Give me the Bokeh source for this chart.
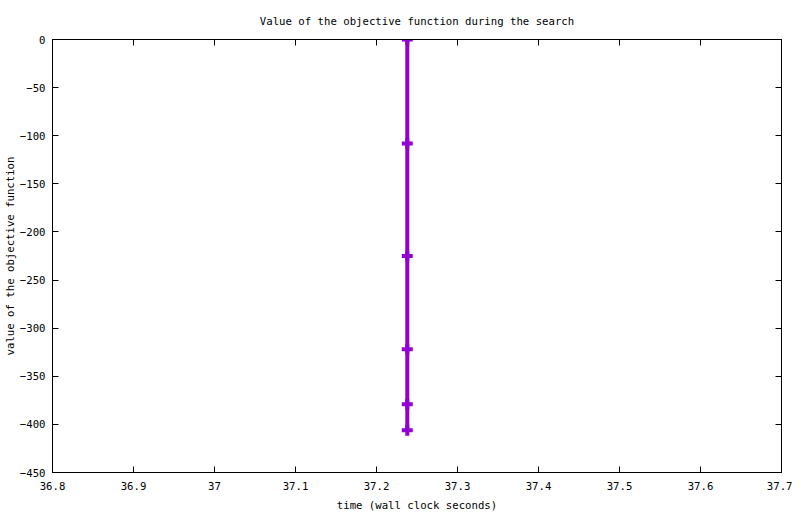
from bokeh.plotting import figure
from bokeh.models import FixedTicker, LinearAxis, CustomJSTickFormatter, Range1d
from bokeh.embed import file_html
from bokeh.resources import INLINE

# data
time_s = [37.238, 37.238, 37.238, 37.238, 37.238, 37.238]
objective = [0, -108, -225, -322, -379, -406]

x_ticks = [36.8, 36.9, 37.0, 37.1, 37.2, 37.3, 37.4, 37.5, 37.6, 37.7]
y_ticks = [0, -50, -100, -150, -200, -250, -300, -350, -400, -450]

FONT = "DejaVu Sans Mono"
PURPLE = "#9400D3"

p = figure(frame_width=729, frame_height=433, output_backend="svg", toolbar_location=None,
           x_range=Range1d(36.8, 37.7), y_range=Range1d(-450, 0),
           min_border_left=52, min_border_right=11, min_border_top=39, min_border_bottom=34,
           x_axis_location=None, y_axis_location=None)
p.title.text = "Value of the objective function during the search"
p.title.align = "center"
p.title.text_font = FONT
p.title.text_font_size = "8pt"
p.title.text_font_style = "normal"
p.title.text_color = "black"
p.title.offset = 0
p.title.standoff = 24
p.xgrid.visible = False
p.ygrid.visible = False
p.outline_line_color = "black"
p.outline_line_width = 1
p.outline_line_alpha = 1

fmt = CustomJSTickFormatter(code="return String(Number(tick.toFixed(1)));")

def style(ax, labels=True):
    ax.major_tick_in = 6
    ax.major_tick_out = 0
    ax.minor_tick_in = 0
    ax.minor_tick_out = 0
    ax.axis_line_color = "black"
    ax.major_tick_line_color = "black"
    ax.major_label_text_font = FONT
    ax.major_label_text_font_size = "8pt"
    ax.major_label_text_color = "black"
    ax.axis_label_text_font = FONT
    ax.axis_label_text_font_size = "8pt"
    ax.axis_label_text_font_style = "normal"
    ax.axis_label_text_color = "black"
    if not labels:
        ax.major_label_text_alpha = 0
        ax.major_label_text_font_size = "0pt"

xb = LinearAxis(ticker=FixedTicker(ticks=x_ticks), formatter=fmt, axis_label="time (wall clock seconds)")
style(xb)
xb.major_label_standoff = 9
xb.axis_label_standoff = 6
yl = LinearAxis(ticker=FixedTicker(ticks=y_ticks), axis_label="value of the objective function")
style(yl)
yl.major_label_standoff = 7
yl.axis_label_standoff = 0
xt = LinearAxis(ticker=FixedTicker(ticks=x_ticks))
style(xt, labels=False)
yr = LinearAxis(ticker=FixedTicker(ticks=y_ticks))
style(yr, labels=False)
p.add_layout(xb, "below")
p.add_layout(yl, "left")
p.add_layout(xt, "above")
p.add_layout(yr, "right")

p.line(time_s, objective, line_color=PURPLE, line_width=4)
p.scatter(time_s, objective, marker="cross", size=11, line_color=PURPLE, line_width=4)

open("out.html", "w").write(file_html(p, INLINE))
